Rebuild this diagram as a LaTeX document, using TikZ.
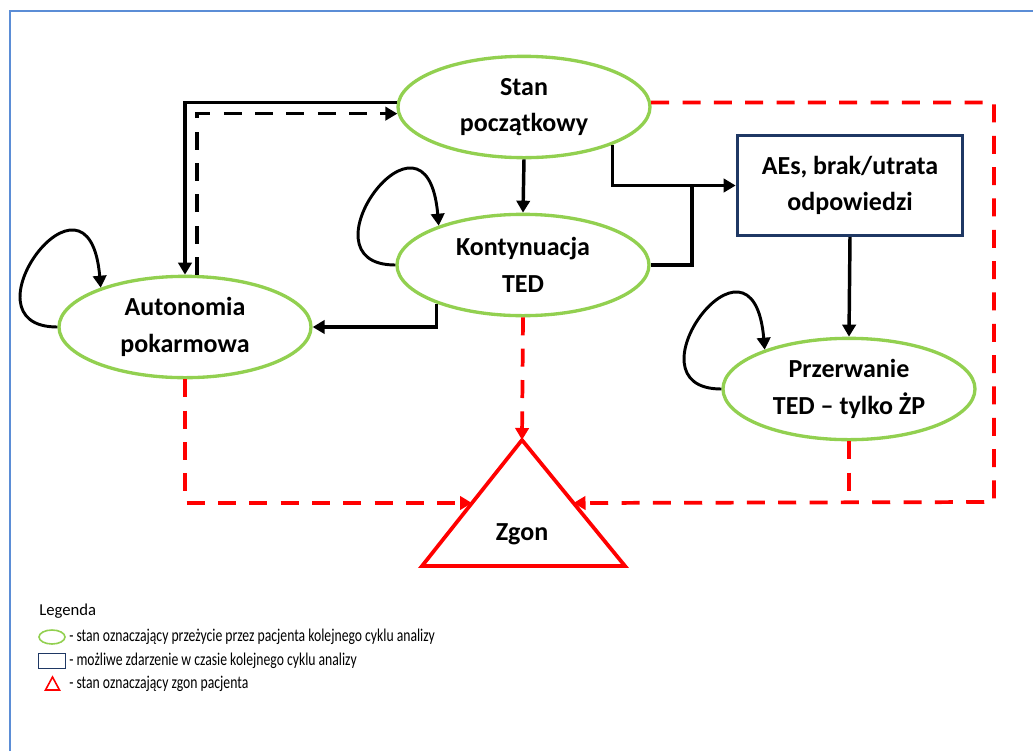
\documentclass[tikz,border=0pt]{standalone}
\usepackage{fontspec}
\setmainfont{Carlito}
\newfontfamily\legendfont[FakeStretch=0.76]{Carlito}
\usetikzlibrary{arrows.meta,calc,shapes.geometric}

\definecolor{stangreen}{RGB}{146,208,80}
\definecolor{zdnavy}{RGB}{31,56,100}
\definecolor{frameblue}{RGB}{91,141,214}

\tikzset{
  stan/.style={ellipse, draw=stangreen, line width=2.5pt, minimum width=189pt, minimum height=76pt,
    inner sep=0pt, align=center, font=\fontsize{19.5}{27.5}\selectfont\bfseries},
  zdarzenie/.style={rectangle, draw=zdnavy, line width=2.5pt, minimum width=169pt, minimum height=75pt,
    inner sep=0pt, align=center, font=\fontsize{19.5}{27.5}\selectfont\bfseries},
  przejscie/.style={line width=2.6pt, -{Triangle[length=9pt,width=10pt]}},
  linia/.style={line width=2.6pt},
  powrot/.style={przejscie, dash pattern=on 13.5pt off 10pt},
  petla/.style={line width=2.2pt, -{Triangle[length=9pt,width=10pt]}},
  zgonlinia/.style={red, line width=2.8pt, dash pattern=on 13.5pt off 10pt},
  zgonstrzalka/.style={zgonlinia, -{Triangle[length=9pt,width=10pt]}},
  legenda/.style={anchor=west, inner sep=0pt, font=\legendfont\fontsize{13.5}{15}\selectfont}
}

\begin{document}
\begin{tikzpicture}[x=0.75pt,y=-0.75pt]
	\useasboundingbox (0,0) rectangle (1033,751);
	\draw[frameblue, line width=0.8pt] (10,751) -- (10,11) -- (1033,11);
	
	%%% stany
	\node[stan] (start) at (524,107) {Stan\\początkowy};
	\node[stan] (kont) at (523,265) {Kontynuacja\\TED};
	\node[stan] (auto) at (185,327) {Autonomia\\pokarmowa};
	\node[stan] (przer) at (849,389) {Przerwanie\\TED – tylko ŻP};
	\node[zdarzenie] (aes) at (850,185.5) {AEs, brak/utrata\\odpowiedzi};
	
	%%% zgon
	\coordinate (zapex) at (522,440);
	\coordinate (zbl) at (422,566);
	\coordinate (zbr) at (625,566);
	\coordinate (zleft) at ($(zapex)!0.5!(zbl)$);
	\coordinate (zright) at ($(zapex)!0.5!(zbr)$);
	\draw[red, line width=2.8pt, line join=miter] (zapex) -- (zbl) -- (zbr) -- cycle;
	\node[anchor=base, font=\fontsize{19.5}{22}\selectfont\bfseries] (zgon) at (522,540) {Zgon};
	
	%%% przejscia
	\coordinate (junction) at (692,185.5);
	\draw[przejscie] (start.south) -- (kont.north);
	\draw[przejscie] (start.337) |- (aes.west);
	\draw[linia] (kont.east) -| (junction);
	\draw[przejscie] (aes.south) -- (przer.north);
	\draw[przejscie] (start.178) -| (auto.north);
	\draw[powrot] (auto.77) |- (start.183);
	\draw[przejscie] (kont.204) |- (auto.east);
	
	%%% petle
	\draw[petla] (kont.west) .. controls +(-100,0) and +(-12,-140) .. (kont.155);
	\draw[petla] (auto.west) .. controls +(-100,0) and +(-12,-140) .. (auto.155);
	\draw[petla] (przer.west) .. controls +(-100,0) and +(-12,-140) .. (przer.155);
	
	%%% do zgonu
	\coordinate (rcorner) at (994,502);
	\draw[zgonstrzalka] (start.2) -| (rcorner) -- (zright);
	\draw[zgonlinia] (przer.south) -- (przer.south |- rcorner);
	\draw[zgonstrzalka] (auto.south) |- (zleft);
	\draw[zgonstrzalka] (kont.south) -- (zapex);
	
	%%% legenda
	\node[anchor=west, inner sep=0pt, font=\fontsize{12.5}{14}\selectfont] (legtytul) at (39,611) {Legenda};
	\node[ellipse, draw=stangreen, line width=1.2pt, minimum width=19.5pt, minimum height=10.5pt, inner sep=0pt] (legstan) at (52,637) {};
	\node[rectangle, draw=zdnavy, line width=1.2pt, minimum width=20pt, minimum height=11pt, inner sep=0pt] (legzd) at (52,661) {};
	\draw[red, line width=1.2pt] (52.5,677) -- (45.5,690) -- (59.5,690) -- cycle;
	\node[legenda] (legopis1) at (69,637) {- stan oznaczający przeżycie przez pacjenta kolejnego cyklu analizy};
	\node[legenda] (legopis2) at (69,661) {- możliwe zdarzenie w czasie kolejnego cyklu analizy};
	\node[legenda] (legopis3) at (69,684) {- stan oznaczający zgon pacjenta};
\end{tikzpicture}
\end{document}
